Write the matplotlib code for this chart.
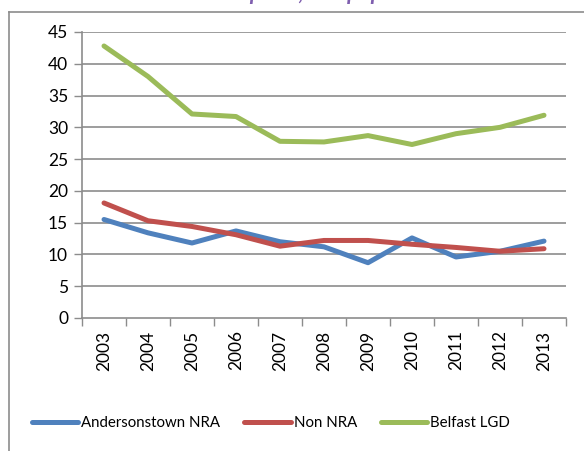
import matplotlib
matplotlib.use("Agg")
import matplotlib.pyplot as plt
from matplotlib.lines import Line2D
import numpy as np

years = ["2003", "2004", "2005", "2006", "2007", "2008", "2009", "2010", "2011", "2012", "2013"]
andersonstown = [15.5, 13.4, 11.8, 13.7, 12.0, 11.2, 8.7, 12.6, 9.6, 10.5, 12.1]
non_nra = [18.1, 15.3, 14.4, 13.1, 11.3, 12.2, 12.2, 11.6, 11.1, 10.5, 10.9]
belfast = [42.8, 38.0, 32.1, 31.7, 27.8, 27.7, 28.7, 27.3, 29.0, 30.0, 31.9]
series_names = ["Andersonstown NRA", "Non NRA", "Belfast LGD"]
colors = ["#4F81BD", "#C0504D", "#9BBB59"]
yticks = [0, 5, 10, 15, 20, 25, 30, 35, 40, 45]

plt.rcParams['font.family'] = ['Lato', 'DejaVu Sans']

W, H = 584, 451
fig = plt.figure(figsize=(W / 100, H / 100), dpi=100)
ax = fig.add_axes([82 / W, 1 - 318 / H, (566 - 82) / W, (318 - 32) / H])

x = np.arange(len(years))
for vals, name, c in zip([andersonstown, non_nra, belfast], series_names, colors):
    ax.plot(x, vals, color=c, lw=3.6, label=name, solid_capstyle='round', solid_joinstyle='round')

grid_c = "#8C8C8C"
ax.set_ylim(0, 45)
ax.set_yticks(yticks)
ax.set_xlim(-0.5, len(years) - 0.5)
ax.set_xticks(x)
ax.set_xticklabels(years, rotation=90)
ax.set_xticks(np.arange(-0.5, len(years)), minor=True)
ax.tick_params(axis='x', which='major', length=0, pad=9, labelsize=12.5)
ax.tick_params(axis='x', which='minor', length=6, color=grid_c, width=1)
ax.tick_params(axis='y', length=6, color=grid_c, width=1, labelsize=12.5, pad=4)
for yv in yticks[1:]:
    ax.axhline(yv, color=grid_c, lw=1.2, zorder=0)
for s in ['top', 'right']:
    ax.spines[s].set_visible(False)
for s in ['left', 'bottom']:
    ax.spines[s].set_color(grid_c)
    ax.spines[s].set_linewidth(1.2)

fig.legend(loc='center', bbox_to_anchor=(271 / W, 1 - 423 / H), ncol=3, frameon=False,
           fontsize=10.8, handlelength=3.1, handletextpad=0.2, columnspacing=1.6)

# outer chart frame (partially visible)
fig.add_artist(Line2D([8.5 / W, 8.5 / W], [0, 1 - 12 / H], color="#8C8C8C", lw=1.2, transform=fig.transFigure))
fig.add_artist(Line2D([8.5 / W, 1], [1 - 12 / H, 1 - 12 / H], color="#8C8C8C", lw=1.2, transform=fig.transFigure))

# title, mostly cut off at top of image (only descenders visible in the reference)
fig.text(325 / W, 1 - 0.5 / H, "Rate per 1,000 population", ha='center', va='baseline',
         fontsize=16, fontweight='bold', fontstyle='italic', color="#7F5FAF")

fig.savefig("out.png", dpi=100)
